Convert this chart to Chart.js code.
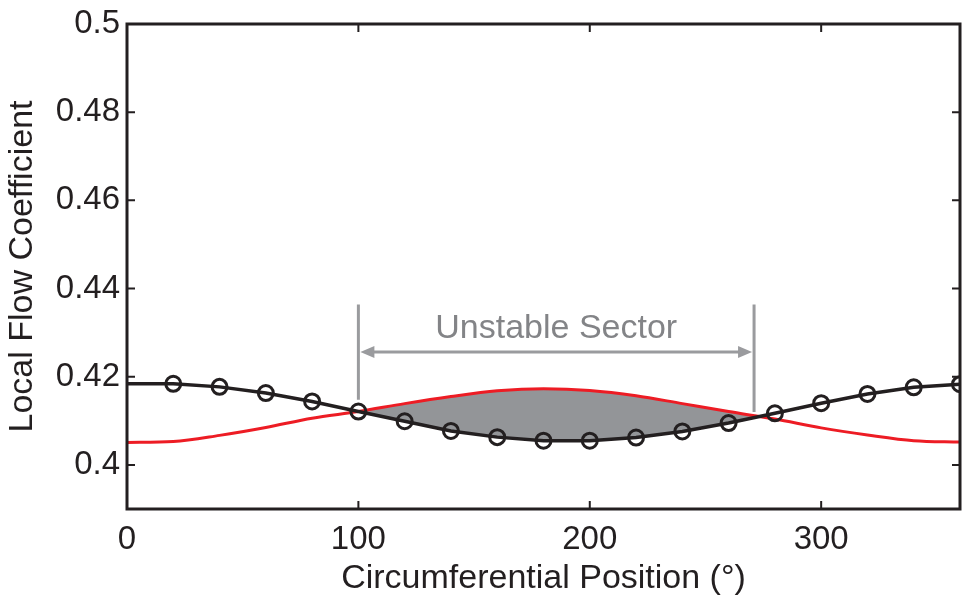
<!DOCTYPE html>
<html>
<head>
<meta charset="utf-8">
<script src="https://cdn.jsdelivr.net/npm/chart.js@4/dist/chart.umd.min.js"></script>
<style>
  html, body { margin: 0; padding: 0; background: #ffffff; }
  #wrap { width: 962px; height: 595px; }
</style>
</head>
<body>
<div id="wrap"><canvas id="c" width="962" height="595"></canvas></div>
<script>
// Circumferential position of each sample (degrees)
const positions = [0, 20, 40, 60, 80, 100, 120, 140, 160, 180, 200, 220, 240, 260, 280, 300, 320, 340, 360];
// Measured local flow coefficient (black, circles)
const measured = [0.4184, 0.4184, 0.4177, 0.4163, 0.4144, 0.4121, 0.4099, 0.4077, 0.4063, 0.4055, 0.4055, 0.4062, 0.4076, 0.4095, 0.4117, 0.4140, 0.4161, 0.4176, 0.4183];
// Reference curve (red, smooth)
const reference = [0.4051, 0.4053, 0.4067, 0.4085, 0.4106, 0.4121, 0.4139, 0.4155, 0.4168, 0.4173, 0.4169, 0.4157, 0.4139, 0.4121, 0.4104, 0.4084, 0.4068, 0.4055, 0.4052];
// Marker radius per sample: no marker at the 0 degree start point
const markerRadius = [0, 7.5, 7.5, 7.5, 7.5, 7.5, 7.5, 7.5, 7.5, 7.5, 7.5, 7.5, 7.5, 7.5, 7.5, 7.5, 7.5, 7.5, 7.5];

// Axis ticks
const xTickValues = [0, 100, 200, 300];
const xTickLabels = ['0', '100', '200', '300'];
const yTickValues = [0.4, 0.42, 0.44, 0.46, 0.48, 0.5];
const yTickLabels = ['0.4', '0.42', '0.44', '0.46', '0.48', '0.5'];

// Unstable sector annotation (data coordinates)
const sectorEdges = [100, 271];
const sectorTop = 0.4364;
const sectorEdgeBottoms = [0.4148, 0.4120];
const sectorArrowLevel = 0.4256;
const sectorLabel = 'Unstable Sector';
const sectorLabelLevel = 0.4309;

const INK = '#231f20';
const RED = '#ed1c24';
const SHADE = '#939598';
const NOTE_LINE = '#9a9b9e';
const NOTE_TEXT = '#838487';
const FONT = "'Liberation Sans', Arial, Helvetica, sans-serif";

const frameAndNotes = {
  id: 'frameAndNotes',
  afterDatasetsDraw(chart) {
    const { ctx, chartArea: a, scales: { x, y } } = chart;
    ctx.save();

    // sector annotation
    const xl = x.getPixelForValue(sectorEdges[0]);
    const xr = x.getPixelForValue(sectorEdges[1]);
    const yt = y.getPixelForValue(sectorTop);
    const ya = y.getPixelForValue(sectorArrowLevel);
    ctx.strokeStyle = NOTE_LINE;
    ctx.fillStyle = NOTE_LINE;
    ctx.lineWidth = 3;
    ctx.beginPath();
    ctx.moveTo(xl, yt); ctx.lineTo(xl, y.getPixelForValue(sectorEdgeBottoms[0]));
    ctx.moveTo(xr, yt); ctx.lineTo(xr, y.getPixelForValue(sectorEdgeBottoms[1]));
    ctx.stroke();
    ctx.beginPath();
    ctx.moveTo(xl + 10, ya); ctx.lineTo(xr - 10, ya);
    ctx.stroke();
    ctx.beginPath();
    ctx.moveTo(xl + 2, ya); ctx.lineTo(xl + 16, ya - 6); ctx.lineTo(xl + 16, ya + 6); ctx.closePath();
    ctx.moveTo(xr - 2, ya); ctx.lineTo(xr - 16, ya - 6); ctx.lineTo(xr - 16, ya + 6); ctx.closePath();
    ctx.fill();
    ctx.fillStyle = NOTE_TEXT;
    ctx.font = '34px ' + FONT;
    ctx.textAlign = 'center';
    ctx.textBaseline = 'middle';
    ctx.fillText(sectorLabel, (xl + xr) / 2, y.getPixelForValue(sectorLabelLevel));

    // inward tick marks on all four sides
    ctx.strokeStyle = INK;
    ctx.lineWidth = 2;
    ctx.beginPath();
    xTickValues.forEach(v => {
      const px = x.getPixelForValue(v);
      ctx.moveTo(px, a.bottom); ctx.lineTo(px, a.bottom - 8);
      ctx.moveTo(px, a.top); ctx.lineTo(px, a.top + 8);
    });
    yTickValues.forEach(v => {
      const py = y.getPixelForValue(v);
      ctx.moveTo(a.left, py); ctx.lineTo(a.left + 8, py);
      ctx.moveTo(a.right, py); ctx.lineTo(a.right - 8, py);
    });
    ctx.stroke();

    // box frame
    ctx.lineWidth = 3;
    ctx.strokeRect(a.left, a.top, a.right - a.left, a.bottom - a.top);
    ctx.restore();
  }
};

new Chart(document.getElementById('c'), {
  type: 'line',
  data: {
    datasets: [
      {
        label: 'Measured',
        data: positions.map((p, i) => ({ x: p, y: measured[i] })),
        borderColor: INK,
        borderWidth: 3.5,
        pointRadius: markerRadius,
        pointBorderColor: INK,
        pointBackgroundColor: 'rgba(0,0,0,0)',
        pointBorderWidth: 3,
        tension: 0,
        fill: { target: 1, above: 'rgba(0,0,0,0)', below: SHADE },
        clip: 0
      },
      {
        label: 'Reference',
        data: positions.map((p, i) => ({ x: p, y: reference[i] })),
        borderColor: RED,
        borderWidth: 3,
        pointRadius: 0,
        cubicInterpolationMode: 'monotone',
        fill: false,
        clip: 0
      }
    ]
  },
  options: {
    responsive: false,
    animation: false,
    devicePixelRatio: 1,
    layout: { autoPadding: false, padding: { top: 24, left: 0, right: 2, bottom: 0 } },
    plugins: {
      legend: { display: false },
      tooltip: { enabled: false },
      filler: { drawTime: 'beforeDatasetsDraw' }
    },
    scales: {
      x: {
        type: 'linear',
        min: 0,
        max: 360,
        grid: { display: false, drawTicks: false },
        border: { display: false },
        afterBuildTicks: s => { s.ticks = xTickValues.map(v => ({ value: v })); },
        afterFit: s => { s.height = 86; s.paddingLeft = 0; s.paddingRight = 0; },
        ticks: {
          autoSkip: false,
          maxRotation: 0,
          padding: 11,
          color: INK,
          font: { family: FONT, size: 33 },
          callback: (v) => xTickLabels[xTickValues.indexOf(v)]
        },
        title: {
          display: true,
          text: 'Circumferential Position (°)',
          color: INK,
          font: { family: FONT, size: 34 },
          padding: { top: 0, bottom: -4 }
        }
      },
      y: {
        type: 'linear',
        min: 0.39,
        max: 0.5,
        grid: { display: false, drawTicks: false },
        border: { display: false },
        afterBuildTicks: s => { s.ticks = yTickValues.map(v => ({ value: v })); },
        afterFit: s => { s.width = 127; s.paddingTop = 0; s.paddingBottom = 0; },
        ticks: {
          autoSkip: false,
          padding: 7,
          color: INK,
          font: { family: FONT, size: 33 },
          callback: (v) => yTickLabels[yTickValues.findIndex(t => Math.abs(t - v) < 1e-9)]
        },
        title: {
          display: true,
          text: 'Local Flow Coefficient',
          color: INK,
          font: { family: FONT, size: 34 },
          padding: { top: 2, bottom: 0 }
        }
      }
    }
  },
  plugins: [frameAndNotes]
});
</script>
</body>
</html>
